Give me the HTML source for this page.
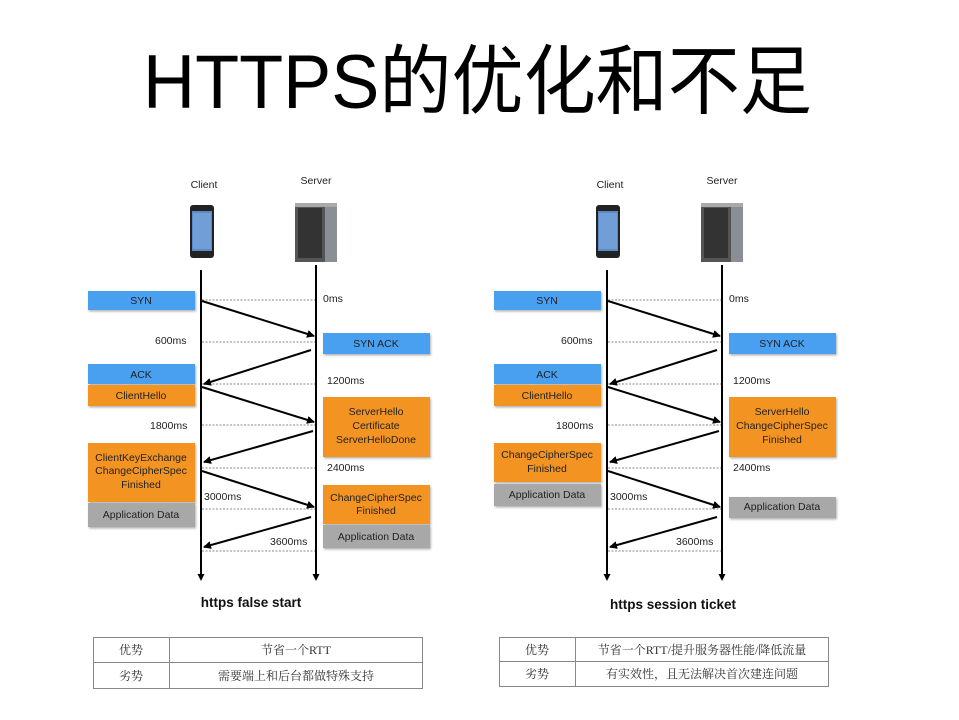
<!DOCTYPE html>
<html><head><meta charset="utf-8"><style>
html,body{margin:0;padding:0;background:#fff;}
svg{display:block;}
text{font-family:"Liberation Sans","Noto Sans CJK SC",sans-serif;}
.s{font-size:10.5px;fill:#222;}
.b{font-size:10.5px;fill:#222;text-anchor:middle;}
.t{font-size:12px;fill:#333;text-anchor:middle;font-family:"Liberation Serif","Noto Serif CJK SC",serif;}
</style></head><body>
<svg width="959" height="720" viewBox="0 0 959 720">
<defs>
<marker id="a" markerWidth="8" markerHeight="8" refX="7" refY="4" orient="auto" markerUnits="userSpaceOnUse"><path d="M0,0 L8,4 L0,8 z" fill="#000"/></marker>
<filter id="sh"><feDropShadow dx="1" dy="1.5" stdDeviation="1" flood-opacity="0.3"/></filter>
<g id="phone"><rect x="0" y="0" width="24" height="53" rx="3" fill="#222"/><rect x="2" y="6" width="20" height="40" fill="#5a8bc8"/><rect x="3" y="8" width="18" height="36" fill="#7aa7d8" opacity="0.7"/></g>
<g id="srv"><rect x="0" y="0" width="30" height="59" fill="#555"/><rect x="30" y="3" width="12" height="56" fill="#8a8f96"/><rect x="3" y="5" width="24" height="50" fill="#333"/><rect x="0" y="0" width="42" height="4" fill="#aaa"/></g>
</defs>
<text x="143" y="108" font-size="76" textLength="669" lengthAdjust="spacingAndGlyphs" fill="#000">HTTPS的优化和不足</text>

<!-- LEFT -->
<text x="204" y="188" class="b">Client</text>
<text x="316" y="184" class="b">Server</text>
<use href="#phone" x="190" y="205"/>
<use href="#srv" x="295" y="203"/>
<line x1="201" y1="270" x2="201" y2="576" stroke="#000" stroke-width="2"/>
<line x1="316" y1="265" x2="316" y2="576" stroke="#000" stroke-width="2"/>
<path d="M197.5,574 L204.5,574 L201,581 z M312.5,574 L319.5,574 L316,581 z" fill="#000"/>
<g stroke="#888" stroke-dasharray="2,1.5" stroke-width="1">
<line x1="202" y1="300" x2="315" y2="300"/><line x1="202" y1="342" x2="315" y2="342"/><line x1="202" y1="384" x2="315" y2="384"/><line x1="202" y1="425" x2="315" y2="425"/><line x1="202" y1="468" x2="315" y2="468"/><line x1="202" y1="509" x2="315" y2="509"/><line x1="202" y1="551" x2="315" y2="551"/></g>
<g filter="url(#sh)">
<rect x="88" y="291" width="107" height="19" fill="#4a9ff0"/>
<rect x="323" y="333" width="107" height="21" fill="#4a9ff0"/>
<rect x="88" y="364" width="107" height="20" fill="#4a9ff0"/>
<rect x="88" y="385" width="107" height="21" fill="#f39422"/>
<rect x="323" y="397" width="107" height="60" fill="#f39422"/>
<rect x="88" y="443" width="107" height="59" fill="#f39422"/>
<rect x="88" y="503" width="107" height="24" fill="#a8a8a8"/>
<rect x="323" y="485" width="107" height="39" fill="#f39422"/>
<rect x="323" y="525" width="107" height="23" fill="#a8a8a8"/>
</g>
<g stroke="#000" stroke-width="2">
<line x1="202" y1="301" x2="314" y2="336" marker-end="url(#a)"/>
<line x1="311" y1="350" x2="204" y2="384" marker-end="url(#a)"/>
<line x1="202" y1="387" x2="314" y2="422" marker-end="url(#a)"/>
<line x1="313" y1="431" x2="204" y2="462" marker-end="url(#a)"/>
<line x1="202" y1="471" x2="314" y2="507" marker-end="url(#a)"/>
<line x1="311" y1="517" x2="204" y2="547" marker-end="url(#a)"/>
</g>
<text x="141" y="304" class="b">SYN</text>
<text x="376" y="347" class="b">SYN ACK</text>
<text x="141" y="378" class="b">ACK</text>
<text x="141" y="399" class="b">ClientHello</text>
<text x="376" y="415" class="b">ServerHello</text>
<text x="376" y="429" class="b">Certificate</text>
<text x="376" y="443" class="b">ServerHelloDone</text>
<text x="141" y="461" class="b">ClientKeyExchange</text>
<text x="141" y="474" class="b">ChangeCipherSpec</text>
<text x="141" y="488" class="b">Finished</text>
<text x="141" y="518" class="b">Application Data</text>
<text x="376" y="501" class="b">ChangeCipherSpec</text>
<text x="376" y="514" class="b">Finished</text>
<text x="376" y="540" class="b">Application Data</text>
<text x="323" y="302" class="s">0ms</text>
<text x="155" y="344" class="s">600ms</text>
<text x="327" y="384" class="s">1200ms</text>
<text x="150" y="429" class="s">1800ms</text>
<text x="327" y="471" class="s">2400ms</text>
<text x="204" y="500" class="s">3000ms</text>
<text x="270" y="545" class="s">3600ms</text>
<text x="251" y="607" font-size="13.5" font-weight="bold" text-anchor="middle" fill="#111">https false start</text>
<g fill="none" stroke="#888" stroke-width="1"><rect x="93.5" y="637.5" width="329" height="51"/><line x1="93" y1="662.5" x2="422" y2="662.5"/><line x1="169.5" y1="637" x2="169.5" y2="688"/></g>
<text x="131" y="654" class="t">优势</text><text x="296" y="654" class="t">节省一个RTT</text>
<text x="131" y="680" class="t">劣势</text><text x="296" y="680" class="t">需要端上和后台都做特殊支持</text>

<!-- RIGHT -->
<text x="610" y="188" class="b">Client</text>
<text x="722" y="184" class="b">Server</text>
<use href="#phone" x="596" y="205"/>
<use href="#srv" x="701" y="203"/>
<line x1="607" y1="270" x2="607" y2="576" stroke="#000" stroke-width="2"/>
<line x1="722" y1="265" x2="722" y2="576" stroke="#000" stroke-width="2"/>
<path d="M603.5,574 L610.5,574 L607,581 z M718.5,574 L725.5,574 L722,581 z" fill="#000"/>
<g stroke="#888" stroke-dasharray="2,1.5" stroke-width="1">
<line x1="608" y1="300" x2="721" y2="300"/><line x1="608" y1="342" x2="721" y2="342"/><line x1="608" y1="384" x2="721" y2="384"/><line x1="608" y1="425" x2="721" y2="425"/><line x1="608" y1="468" x2="721" y2="468"/><line x1="608" y1="509" x2="721" y2="509"/><line x1="608" y1="551" x2="721" y2="551"/></g>
<g filter="url(#sh)">
<rect x="494" y="291" width="107" height="19" fill="#4a9ff0"/>
<rect x="729" y="333" width="107" height="21" fill="#4a9ff0"/>
<rect x="494" y="364" width="107" height="20" fill="#4a9ff0"/>
<rect x="494" y="385" width="107" height="21" fill="#f39422"/>
<rect x="729" y="397" width="107" height="60" fill="#f39422"/>
<rect x="494" y="443" width="107" height="39" fill="#f39422"/>
<rect x="494" y="484" width="107" height="22" fill="#a8a8a8"/>
<rect x="729" y="497" width="107" height="21" fill="#a8a8a8"/>
</g>
<g stroke="#000" stroke-width="2">
<line x1="608" y1="301" x2="720" y2="336" marker-end="url(#a)"/>
<line x1="717" y1="350" x2="610" y2="384" marker-end="url(#a)"/>
<line x1="608" y1="387" x2="720" y2="422" marker-end="url(#a)"/>
<line x1="719" y1="431" x2="610" y2="462" marker-end="url(#a)"/>
<line x1="608" y1="471" x2="720" y2="507" marker-end="url(#a)"/>
<line x1="717" y1="517" x2="610" y2="547" marker-end="url(#a)"/>
</g>
<text x="547" y="304" class="b">SYN</text>
<text x="782" y="347" class="b">SYN ACK</text>
<text x="547" y="378" class="b">ACK</text>
<text x="547" y="399" class="b">ClientHello</text>
<text x="782" y="415" class="b">ServerHello</text>
<text x="782" y="429" class="b">ChangeCipherSpec</text>
<text x="782" y="443" class="b">Finished</text>
<text x="547" y="458" class="b">ChangeCipherSpec</text>
<text x="547" y="472" class="b">Finished</text>
<text x="547" y="498" class="b">Application Data</text>
<text x="782" y="510" class="b">Application Data</text>
<text x="729" y="302" class="s">0ms</text>
<text x="561" y="344" class="s">600ms</text>
<text x="733" y="384" class="s">1200ms</text>
<text x="556" y="429" class="s">1800ms</text>
<text x="733" y="471" class="s">2400ms</text>
<text x="610" y="500" class="s">3000ms</text>
<text x="676" y="545" class="s">3600ms</text>
<text x="673" y="609" font-size="13.5" font-weight="bold" text-anchor="middle" fill="#111">https session ticket</text>
<g fill="none" stroke="#888" stroke-width="1"><rect x="499.5" y="637.5" width="329" height="49"/><line x1="499" y1="661.5" x2="828" y2="661.5"/><line x1="575.5" y1="637" x2="575.5" y2="686"/></g>
<text x="537" y="654" class="t">优势</text><text x="702" y="654" class="t">节省一个RTT/提升服务器性能/降低流量</text>
<text x="537" y="678" class="t">劣势</text><text x="702" y="678" class="t">有实效性，且无法解决首次建连问题</text>
</svg>
</body></html>
